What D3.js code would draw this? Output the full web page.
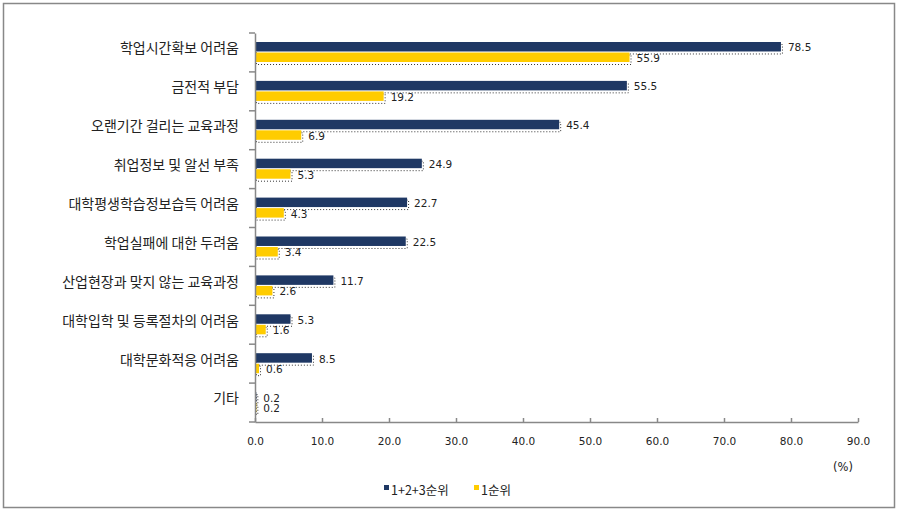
<!DOCTYPE html>
<html>
<head>
<meta charset="utf-8">
<script src="https://cdn.jsdelivr.net/npm/d3@7"></script>
<style>
  body { margin: 0; background: #fff; }
  text { fill: #222; }
  .cat { font-family: "Noto Sans CJK KR", sans-serif; font-size: 14px; }
  .num { font-family: "DejaVu Sans", sans-serif; font-size: 10.5px; }
</style>
</head>
<body>
<div id="chart"></div>
<script>
const categories = ['학업시간확보 어려움', '금전적 부담', '오랜기간 걸리는 교육과정', '취업정보 및 알선 부족',
  '대학평생학습정보습득 어려움', '학업실패에 대한 두려움', '산업현장과 맞지 않는 교육과정',
  '대학입학 및 등록절차의 어려움', '대학문화적응 어려움', '기타'];
const top3 = [78.5, 55.5, 45.4, 24.9, 22.7, 22.5, 11.7, 5.3, 8.5, 0.2];
const first = [55.9, 19.2, 6.9, 5.3, 4.3, 3.4, 2.6, 1.6, 0.6, 0.2];
const seriesNames = ['1+2+3순위', '1순위'];
const colors = ['#1f3864', '#ffcc00'];
const xTicks = [0, 10, 20, 30, 40, 50, 60, 70, 80, 90];

const W = 898, H = 513;
const margin = { top: 33, left: 255, right: 40, bottom: 91 };
const width = W - margin.left - margin.right,
      height = H - margin.top - margin.bottom;

const svg = d3.select('#chart').append('svg')
  .attr('width', W).attr('height', H);

// outer frame
svg.append('rect').attr('x', 3.5).attr('y', 3.5).attr('width', W - 7).attr('height', H - 9)
  .attr('fill', 'none').attr('stroke', '#888').attr('stroke-width', 1.5);

const g = svg.append('g').attr('transform', `translate(${margin.left},${margin.top})`);

const x = d3.scaleLinear().domain([0, 90]).range([0, width]);
const y = d3.scaleBand().domain(categories).range([0, height]);
const sub = d3.scaleBand().domain([0, 1]).range([9, 29]).paddingInner(0.1);

const data = categories.map((c, i) => ({ cat: c, vals: [top3[i], first[i]] }));

const groups = g.selectAll('.grp').data(data).enter().append('g')
  .attr('transform', d => `translate(0,${y(d.cat)})`);

// dotted shadow behind bars
groups.selectAll('.shadow').data(d => d.vals).enter().append('rect')
  .attr('x', 1.5)
  .attr('y', (d, i) => sub(i) + 2.5)
  .attr('width', d => Math.max(0, x(d)))
  .attr('height', sub.bandwidth())
  .attr('fill', 'none')
  .attr('stroke', '#333')
  .attr('stroke-width', 1)
  .attr('stroke-dasharray', '1,2');

groups.selectAll('.bar').data(d => d.vals).enter().append('rect')
  .attr('x', 0)
  .attr('y', (d, i) => sub(i))
  .attr('width', d => x(d))
  .attr('height', sub.bandwidth())
  .attr('fill', (d, i) => colors[i]);

groups.selectAll('.lbl').data(d => d.vals).enter().append('text')
  .attr('class', 'num')
  .attr('x', d => x(d) + 7)
  .attr('y', (d, i) => sub(i) + sub.bandwidth() / 2 + 1)
  .attr('dy', '0.35em')
  .text(d => d.toFixed(1));

// axes
const xAxis = g.append('g').attr('transform', `translate(0,${height})`)
  .call(d3.axisBottom(x).tickValues(xTicks).tickFormat(d => d.toFixed(1)).tickSizeInner(-4).tickSizeOuter(0));
xAxis.selectAll('text').attr('class', 'num').attr('dy', '1.9em');

const yAxis = g.append('g')
  .call(d3.axisLeft(y).tickSize(0).tickFormat(''));
yAxis.selectAll('.tick').remove();
yAxis.selectAll('.bd').data(d3.range(categories.length + 1)).enter().append('line')
  .attr('x1', -6).attr('x2', 0)
  .attr('y1', i => i * y.step()).attr('y2', i => i * y.step());

[xAxis, yAxis].forEach(a => {
  a.selectAll('path, line').attr('stroke', '#888').attr('stroke-width', 1.5);
});

g.selectAll('.cat').data(categories).enter().append('text')
  .attr('class', 'cat')
  .attr('x', -16)
  .attr('y', d => y(d) + y.bandwidth() / 2 - 4)
  .attr('dy', '0.35em')
  .attr('text-anchor', 'end')
  .text(d => d);

svg.append('text').attr('class', 'num').attr('x', 843).attr('y', 471)
  .attr('text-anchor', 'middle').style('font-size', '11.5px').text('(%)');

// legend
const legend = svg.append('g').attr('transform', 'translate(384,491)');
const items = [{ x: 0 }, { x: 90 }];
seriesNames.forEach((s, i) => {
  legend.append('rect').attr('x', items[i].x).attr('y', -6).attr('width', 5).attr('height', 5)
    .attr('fill', colors[i]);
  legend.append('text').attr('class', 'cat').style('font-size', '12.5px')
    .attr('x', items[i].x + 7).attr('y', 0).attr('dy', '0.35em').text(s);
});
</script>
</body>
</html>
